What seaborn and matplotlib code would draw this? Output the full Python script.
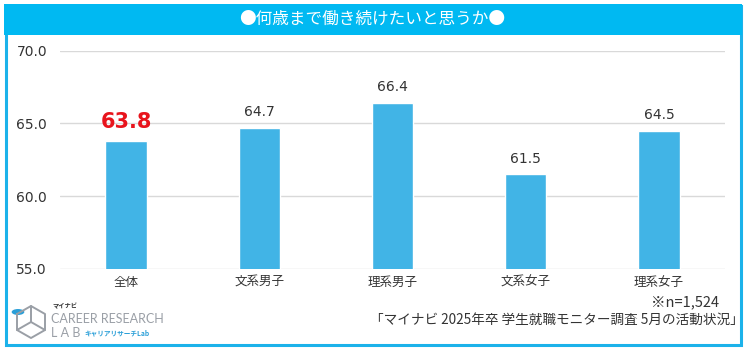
import matplotlib
matplotlib.use("Agg")
import matplotlib.pyplot as plt
from matplotlib.patches import Rectangle, Circle
from matplotlib.lines import Line2D
import seaborn as sns
import pandas as pd

categories = ["全体", "文系男子", "理系男子", "文系女子", "理系女子"]
values = [63.8, 64.7, 66.4, 61.5, 64.5]
y_ticks = [55.0, 60.0, 65.0, 70.0]

sns.set_theme(style="white")
plt.rcParams["font.family"] = ["Noto Sans CJK JP", "DejaVu Sans"]

BAR = "#41B4E6"
HEAD = "#00B9F2"
FRAME = "#1CB2EA"
TXT = "#333333"
NUM_FONT = ["DejaVu Sans"]

df = pd.DataFrame({"group": categories, "age": values})

fig = plt.figure(figsize=(7.45, 3.5), dpi=100)
fig.patch.set_facecolor("white")
ax = fig.add_axes([0.0799, 0.2323, 0.8939, 0.6228])

sns.barplot(data=df, x="group", y="age", color=BAR, width=0.31,
            saturation=1, ax=ax, zorder=3)
ax.set_ylim(55, 70)
ax.set_xlim(-0.5, len(categories) - 0.5)
ax.set_yticks(y_ticks)
ax.set_yticklabels([f"{t:.1f}" for t in y_ticks], fontsize=10, color=TXT,
                   family=NUM_FONT)
ax.set_xticklabels(categories, fontsize=9, color=TXT)
ax.set_xlabel("")
ax.set_ylabel("")
ax.tick_params(axis="y", length=0, pad=9)
ax.tick_params(axis="x", length=0, pad=5)
for s in ax.spines.values():
    s.set_visible(False)
ax.yaxis.grid(True, color="#D9D9D9", linewidth=1.0, zorder=0)
ax.set_axisbelow(True)

for i, v in enumerate(values):
    if i == 0:
        ax.text(i, v + 0.6, f"{v:.1f}", ha="center", va="bottom",
                fontsize=15, fontweight="bold", color="#E8141C",
                family=NUM_FONT)
    else:
        ax.text(i, v + 0.6, f"{v:.1f}", ha="center", va="bottom",
                fontsize=10, color=TXT, family=NUM_FONT)

# outer frame and header band
fig.patches.append(Rectangle((5.5 / 745, 5.5 / 350), 735 / 745, 339 / 350,
                             transform=fig.transFigure, fill=False,
                             edgecolor=FRAME, linewidth=2.2))
fig.patches.append(Rectangle((4 / 745, 1 - 35 / 350), 738 / 745, 31 / 350,
                             transform=fig.transFigure, facecolor=HEAD,
                             edgecolor="none"))
fig.text(0.5, 1 - 19.5 / 350, "●何歳まで働き続けたいと思うか●", ha="center",
         va="center", fontsize=12, color="white")

# footnotes
fig.text(719 / 745, 1 - 302 / 350, "※n=1,524", ha="right", va="center",
         fontsize=10.5, color=TXT)
fig.text(744 / 745, 1 - 320 / 350, "「マイナビ 2025年卒 学生就職モニター調査 5月の活動状況」",
         ha="right", va="center", fontsize=9.8, color=TXT)

# brand mark
def fx(px):
    return px / 745

def fy(py):
    return 1 - py / 350

GRAY = "#9A9FA6"
cube = [
    [(17, 314), (31, 306), (45, 314), (45, 330), (31, 338), (17, 330), (17, 314)],
    [(31, 306), (31, 322), (45, 330)],
    [(31, 322), (17, 330)],
]
for seg in cube:
    xs = [fx(p[0]) for p in seg]
    ys = [fy(p[1]) for p in seg]
    fig.lines.append(Line2D(xs, ys, transform=fig.transFigure,
                            color=GRAY, linewidth=1.4))
fig.patches.append(Circle((fx(18), fy(312)), 0.0085, transform=fig.transFigure,
                          facecolor="#2A9FD8", edgecolor="none"))
fig.text(fx(52), fy(306), "マイナビ", fontsize=4.5, fontweight="bold",
         color="#333333", va="center", ha="left")
fig.text(fx(51), fy(319), "CAREER RESEARCH", fontsize=9, color=GRAY,
         va="center", ha="left", family=["Lato", "DejaVu Sans"])
fig.text(fx(51), fy(333), "L A B", fontsize=9, color=GRAY,
         va="center", ha="left", family=["Lato", "DejaVu Sans"])
fig.text(fx(84), fy(333), "キャリアリサーチLab", fontsize=4.8, fontweight="bold",
         color="#2A9FD8", va="center", ha="left")

fig.savefig("out.png", dpi=100, facecolor="white")
